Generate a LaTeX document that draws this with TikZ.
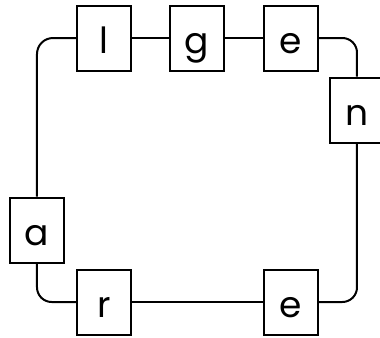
\documentclass[tikz,border=0pt]{standalone}
\usepackage{fontspec}
\setmainfont{Poppins}
\usetikzlibrary{calc}

\begin{document}
\begin{tikzpicture}[x=0.75pt,y=-0.75pt,line width=1.5pt,
	letterbox/.style={draw,fill=white,minimum width=40.5pt,minimum height=48.75pt,inner sep=0pt,text height=22.5pt,text depth=0pt,font=\fontsize{27}{30}\selectfont}]
	\useasboundingbox (0,0) rectangle (380,337);
	% letters round the loop
	\foreach \name/\x/\y/\txt in {l/104/38/l,g/197/38/g,e1/291/38/e,n/357/110/n,a/37/230/a,r/104/302/r,e2/291/302/e} {
		\node [letterbox] (\name) at (\x,\y) {\txt};
	}
	\foreach \from/\to in {l/g,g/e1,r/e2} {
		\draw (\from.east) -- (\to.west);
	}
	\draw [rounded corners=12pt] (a.north) |- (l.west);
	\draw [rounded corners=11pt] (a.south) |- (r.west);
	\draw [rounded corners=11pt] (e1.east) -| (n.north);
	\draw [rounded corners=11pt] (e2.east) -| (n.south);
	\end{tikzpicture}
\end{document}
